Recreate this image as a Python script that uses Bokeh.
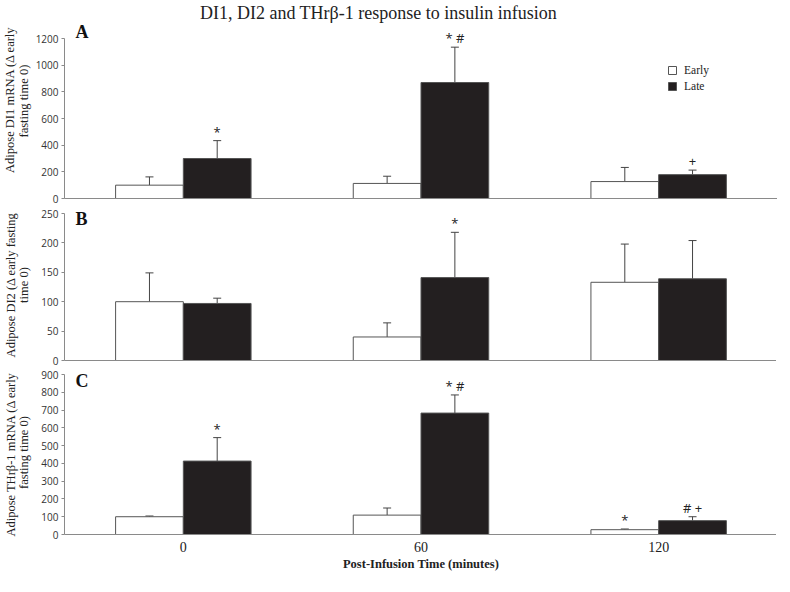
import numpy as np
from bokeh.plotting import figure
from bokeh.layouts import column
from bokeh.models import (ColumnDataSource, Whisker, TeeHead, Label, Legend, LegendItem,
                          FixedTicker, Range1d)
from bokeh.core.properties import value
from bokeh.embed import file_html
from bokeh.resources import INLINE

# ---------------- data ----------------
time_labels = ["0", "60", "120"]
series_names = ["Early", "Late"]
chart_title = "DI1, DI2 and THr\u03b2-1 response to insulin infusion"
x_title = "Post-Infusion Time (minutes)"

# Panel A: DI1
di1_early = [100, 113, 127]
di1_early_sem = [62, 54, 106]
di1_late = [300, 870, 179]
di1_late_sem = [134, 265, 34]
di1_early_marks = ["", "", ""]
di1_late_marks = ["*", "* #", "+"]
di1_ticks = [0, 200, 400, 600, 800, 1000, 1200]
di1_ylabel = "Adipose DI1 mRNA (\u0394 early\nfasting  time 0)"

# Panel B: DI2
di2_early = [100, 40, 133]
di2_early_sem = [49, 24, 65]
di2_late = [97, 141, 139]
di2_late_sem = [9, 77, 65]
di2_early_marks = ["", "", ""]
di2_late_marks = ["", "*", ""]
di2_ticks = [0, 50, 100, 150, 200, 250]
di2_ylabel = "Adipose DI2 (\u0394 early fasting\ntime 0)"

# Panel C: THrb-1
thr_early = [100, 109, 27]
thr_early_sem = [4, 40, 4]
thr_late = [413, 683, 78]
thr_late_sem = [132, 102, 22]
thr_early_marks = ["", "", "*"]
thr_late_marks = ["*", "* #", "# +"]
thr_ticks = [0, 100, 200, 300, 400, 500, 600, 700, 800, 900]
thr_ylabel = "Adipose THr\u03b2-1  mRNA (\u0394 early\nfasting time 0)"

# ---------------- styling / layout ----------------
SERIF = "Liberation Serif"
SANS = "Open Sans"
BW = 0.285
AXIS_COLOR = "#8a8a8a"
BAR_LINE = "#555555"
LATE_FILL = "#231f20"
ERR_COLOR = "#444444"
FRAME_W = 713
LEFT = 61


def make_panel(letter, letter_dy, early, early_sem, late, late_sem, e_marks, l_marks,
               ticks, ylab, ylab_standoff, frame_h, top_px, border_top, border_bottom,
               show_x=False):
    tmax = ticks[-1]
    # extend the range above the top tick so that top_px of room is left inside the frame
    ymax = tmax * frame_h / (frame_h - top_px)
    p = figure(frame_width=FRAME_W, frame_height=frame_h, output_backend="svg",
               toolbar_location=None,
               x_range=Range1d(-0.5, 2.5), y_range=Range1d(0, ymax),
               min_border_left=LEFT, min_border_right=0,
               min_border_top=border_top, min_border_bottom=border_bottom)
    p.outline_line_color = None
    p.grid.visible = False
    p.background_fill_color = "white"

    xs = np.arange(len(time_labels))
    ex = xs - BW / 2
    lx = xs + BW / 2
    e_up = [v + s for v, s in zip(early, early_sem)]
    l_up = [v + s for v, s in zip(late, late_sem)]
    src_e = ColumnDataSource(dict(x=ex, top=early, upper=e_up, mark=e_marks))
    src_l = ColumnDataSource(dict(x=lx, top=late, upper=l_up, mark=l_marks))

    for src in (src_e, src_l):
        p.add_layout(Whisker(base="x", lower="top", upper="upper", source=src,
                             dimension="height", line_color=ERR_COLOR, line_width=1,
                             upper_head=TeeHead(size=8, line_color=ERR_COLOR, line_width=1),
                             lower_head=None, level="underlay"))

    r_e = p.vbar(x="x", top="top", width=BW, bottom=0, source=src_e,
                 fill_color="white", line_color=BAR_LINE, line_width=1)
    r_l = p.vbar(x="x", top="top", width=BW, bottom=0, source=src_l,
                 fill_color=LATE_FILL, line_color=BAR_LINE, line_width=1)

    for src in (src_e, src_l):
        p.text(x="x", y="upper", text="mark", source=src, text_align="center",
               text_baseline="middle", y_offset=-9, text_font=value(SANS),
               text_font_size="13px", text_color="#222222")

    # y axis
    ya = p.yaxis[0]
    ya.ticker = FixedTicker(ticks=ticks)
    ya.bounds = (0, tmax)
    ya.axis_line_color = AXIS_COLOR
    ya.major_tick_line_color = AXIS_COLOR
    ya.major_tick_out = 3
    ya.major_tick_in = 0
    ya.minor_tick_line_color = None
    ya.major_label_standoff = 3
    ya.major_label_text_font = SANS
    ya.major_label_text_font_size = "10px"
    ya.major_label_text_color = "#333333"
    ya.axis_label = ylab
    ya.axis_label_standoff = ylab_standoff
    ya.axis_label_text_font = SERIF
    ya.axis_label_text_font_style = "normal"
    ya.axis_label_text_font_size = "12.5px"
    ya.axis_label_text_line_height = 0.95
    ya.axis_label_text_color = "#222222"

    # x axis
    xa = p.xaxis[0]
    xa.axis_line_color = AXIS_COLOR
    xa.major_tick_line_color = None
    xa.minor_tick_line_color = None
    xa.major_tick_out = 0
    xa.major_tick_in = 0
    if show_x:
        xa.ticker = FixedTicker(ticks=list(range(len(time_labels))))
        xa.major_label_overrides = {i: t for i, t in enumerate(time_labels)}
        xa.major_label_standoff = 7
        xa.major_label_text_font = SERIF
        xa.major_label_text_font_size = "14px"
        xa.major_label_text_color = "#222222"
        xa.axis_label = x_title
        xa.axis_label_standoff = 2
        xa.axis_label_text_font = SERIF
        xa.axis_label_text_font_style = "bold"
        xa.axis_label_text_font_size = "12.5px"
        xa.axis_label_text_color = "#222222"
    else:
        xa.ticker = FixedTicker(ticks=[])
        xa.major_label_standoff = 0

    # panel letter
    p.add_layout(Label(x=-0.5, y=tmax, x_offset=11, y_offset=letter_dy, text=letter,
                       text_align="left", text_baseline="middle", text_font=SERIF,
                       text_font_style="bold", text_font_size="18px", text_color="#111111"))
    return p, r_e, r_l


pA, rAe, rAl = make_panel("A", 7, di1_early, di1_early_sem, di1_late, di1_late_sem,
                          di1_early_marks, di1_late_marks, di1_ticks, di1_ylabel, 2,
                          frame_h=198, top_px=38, border_top=0, border_bottom=7)
pB, _, _ = make_panel("B", -5, di2_early, di2_early_sem, di2_late, di2_late_sem,
                      di2_early_marks, di2_late_marks, di2_ticks, di2_ylabel, 7,
                      frame_h=151, top_px=4, border_top=4, border_bottom=7)
pC, _, _ = make_panel("C", -6, thr_early, thr_early_sem, thr_late, thr_late_sem,
                      thr_early_marks, thr_late_marks, thr_ticks, thr_ylabel, 7,
                      frame_h=164, top_px=4, border_top=3, border_bottom=42, show_x=True)

# chart title (inside the top of panel A's frame)
pA.add_layout(Label(x=-0.5, y=di1_ticks[-1], x_offset=314, y_offset=26, text=chart_title,
                    text_align="center", text_baseline="middle", text_font=SERIF,
                    text_font_size="18px", text_color="#222222"))

legend = Legend(items=[LegendItem(label=series_names[0], renderers=[rAe]),
                       LegendItem(label=series_names[1], renderers=[rAl])],
                location=(603, 106), orientation="vertical",
                border_line_color=None, background_fill_alpha=0,
                padding=0, margin=0, spacing=4, glyph_width=10, glyph_height=10,
                label_height=10, label_standoff=7, label_text_font=SERIF,
                label_text_font_size="11.5px", label_text_color="#222222")
pA.add_layout(legend, "center")

layout = column(pA, pB, pC, spacing=0)
open("out.html", "w").write(file_html(layout, INLINE))
